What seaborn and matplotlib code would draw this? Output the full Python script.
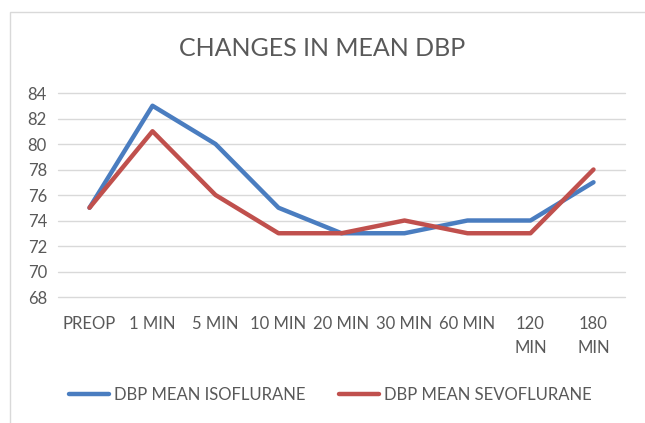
import matplotlib
matplotlib.use("Agg")
import matplotlib.pyplot as plt
import seaborn as sns
import pandas as pd
from matplotlib.patches import Rectangle

categories = ["PREOP", "1 MIN", "5 MIN", "10 MIN", "20 MIN", "30 MIN", "60 MIN", "120\nMIN", "180\nMIN"]
isoflurane = [75, 83, 80, 75, 73, 73, 74, 74, 77]
sevoflurane = [75, 81, 76, 73, 73, 74, 73, 73, 78]
series_names = ["DBP MEAN ISOFLURANE", "DBP MEAN SEVOFLURANE"]
y_ticks = [68, 70, 72, 74, 76, 78, 80, 82, 84]

sns.set_style("white")
plt.rcParams['font.family'] = ['Lato', 'DejaVu Sans']

df = pd.DataFrame({
    "idx": list(range(len(categories))) * 2,
    "value": isoflurane + sevoflurane,
    "series": [series_names[0]] * len(categories) + [series_names[1]] * len(categories),
})

fig = plt.figure(figsize=(6.45, 4.23), dpi=100)
ax = fig.add_axes([58/645, 1-297/423, (625-58)/645, (297-93)/423])

# chart border
fig.patches.append(Rectangle((10/645, -0.05), 1.0, 1-12/423+0.05, transform=fig.transFigure,
                             fill=False, edgecolor="#d9d9d9", linewidth=1))

palette = {series_names[0]: "#4a7dc0", series_names[1]: "#c0504d"}
sns.lineplot(data=df, x="idx", y="value", hue="series", palette=palette, ax=ax,
             linewidth=3.2, legend=True)

ax.set_xlim(-0.5, len(categories) - 0.5)
ax.set_ylim(68, 84)
ax.set_yticks(y_ticks)
ax.set_xticks(range(len(categories)))
ax.set_xticklabels(categories, color="#595959", fontsize=12, va="top", linespacing=1.55)
ax.set_yticklabels([str(v) for v in y_ticks], color="#595959", fontsize=12)
ax.tick_params(axis="both", length=0, pad=8)
ax.tick_params(axis="x", pad=14)
ax.grid(axis="y", color="#d9d9d9", linewidth=1)
for gl in ax.get_ygridlines():
    gl.set_clip_on(False)
ax.set_axisbelow(True)
for s in ax.spines.values():
    s.set_visible(False)
ax.set_xlabel("")
ax.set_ylabel("")

fig.text(0.5, 1-48/423, "CHANGES IN MEAN DBP", ha="center", va="center",
         fontsize=18, color="#595959", fontweight="normal")

handles, labels = ax.get_legend_handles_labels()
ax.legend_.remove()
fig.legend(handles, labels, loc="center", bbox_to_anchor=(0.512, 1-395/423), ncol=2,
           frameon=False, fontsize=12, labelcolor="#595959", handlelength=2.4,
           handletextpad=0.3, columnspacing=2.0)

fig.savefig("out.png", dpi=100)
